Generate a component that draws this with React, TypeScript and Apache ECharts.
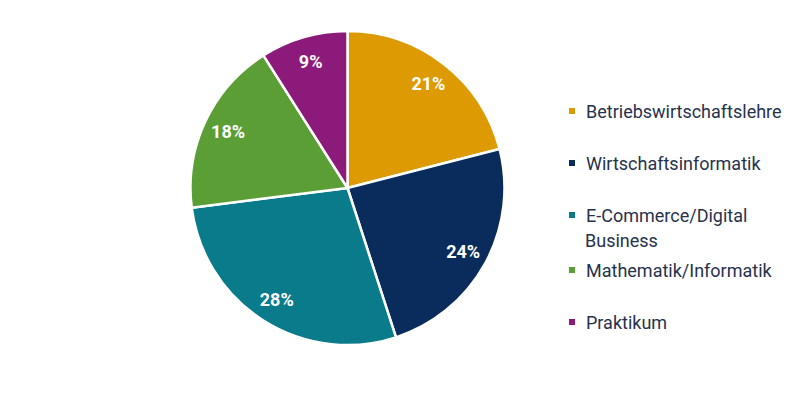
import React, { useEffect, useRef } from "react";
import * as echarts from "echarts";

const categories = [
  "Betriebswirtschaftslehre",
  "Wirtschaftsinformatik",
  "E-Commerce/Digital Business",
  "Mathematik/Informatik",
  "Praktikum",
];
const values = [21, 24, 28, 18, 9];
const colors = ["#DD9A02", "#0A2C5C", "#0A7B8B", "#5A9E35", "#8C1A7B"];
const legendCenters = [111, 163, 215, 270, 322];

export default function App() {
  const ref = useRef<HTMLDivElement>(null);
  useEffect(() => {
    if (!ref.current) return;
    const chart = echarts.init(ref.current, undefined, { renderer: "svg" });
    const data = categories.map((name, i) => ({
      name,
      value: values[i],
      itemStyle: { color: colors[i] },
    }));
    const legends = categories.map((name, i) => ({
      show: true,
      left: 559,
      top: legendCenters[i] - 8 - 11,
      orient: "vertical",
      data: [name],
      icon: "rect",
      itemWidth: 8,
      itemHeight: 8,
      selectedMode: false,
      padding: 0,
      formatter: (n: string) =>
        n === "E-Commerce/Digital Business" ? "E-Commerce/Digital" : n,
      textStyle: {
        fontFamily: "Roboto",
        fontSize: 18,
        lineHeight: 22,
        color: "#26324C",
        padding: [0, 0, 0, 5],
      },
    }));
    chart.setOption({
      animation: false,
      backgroundColor: "#ffffff",
      legend: legends,
      graphic: [
        {
          type: "text",
          left: 577,
          top: 241 - 8 - 10,
          style: {
            text: "Business",
            fontFamily: "Roboto",
            fontSize: 18,
            fill: "#26324C",
          },
        },
      ],
      series: [
        {
          type: "pie",
          center: [339.5, 180],
          radius: [0, 157],
          startAngle: 90,
          clockwise: true,
          silent: true,
          label: { show: false },
          labelLine: { show: false },
          itemStyle: { borderColor: "#ffffff", borderWidth: 2.5 },
          data,
        },
        {
          type: "pie",
          center: [339.5, 180],
          radius: [101, 157],
          startAngle: 90,
          clockwise: true,
          silent: true,
          itemStyle: { color: "rgba(0,0,0,0)", borderWidth: 0 },
          label: {
            show: true,
            position: "inside",
            formatter: "{c}%",
            color: "#ffffff",
            fontFamily: "Roboto",
            fontWeight: "bold",
            fontSize: 18,
          },
          labelLine: { show: false },
          data: categories.map((name, i) => ({ name, value: values[i] })),
        },
      ],
    });
    return () => chart.dispose();
  }, []);
  return <div ref={ref} style={{ width: 784, height: 381 }} />;
}
